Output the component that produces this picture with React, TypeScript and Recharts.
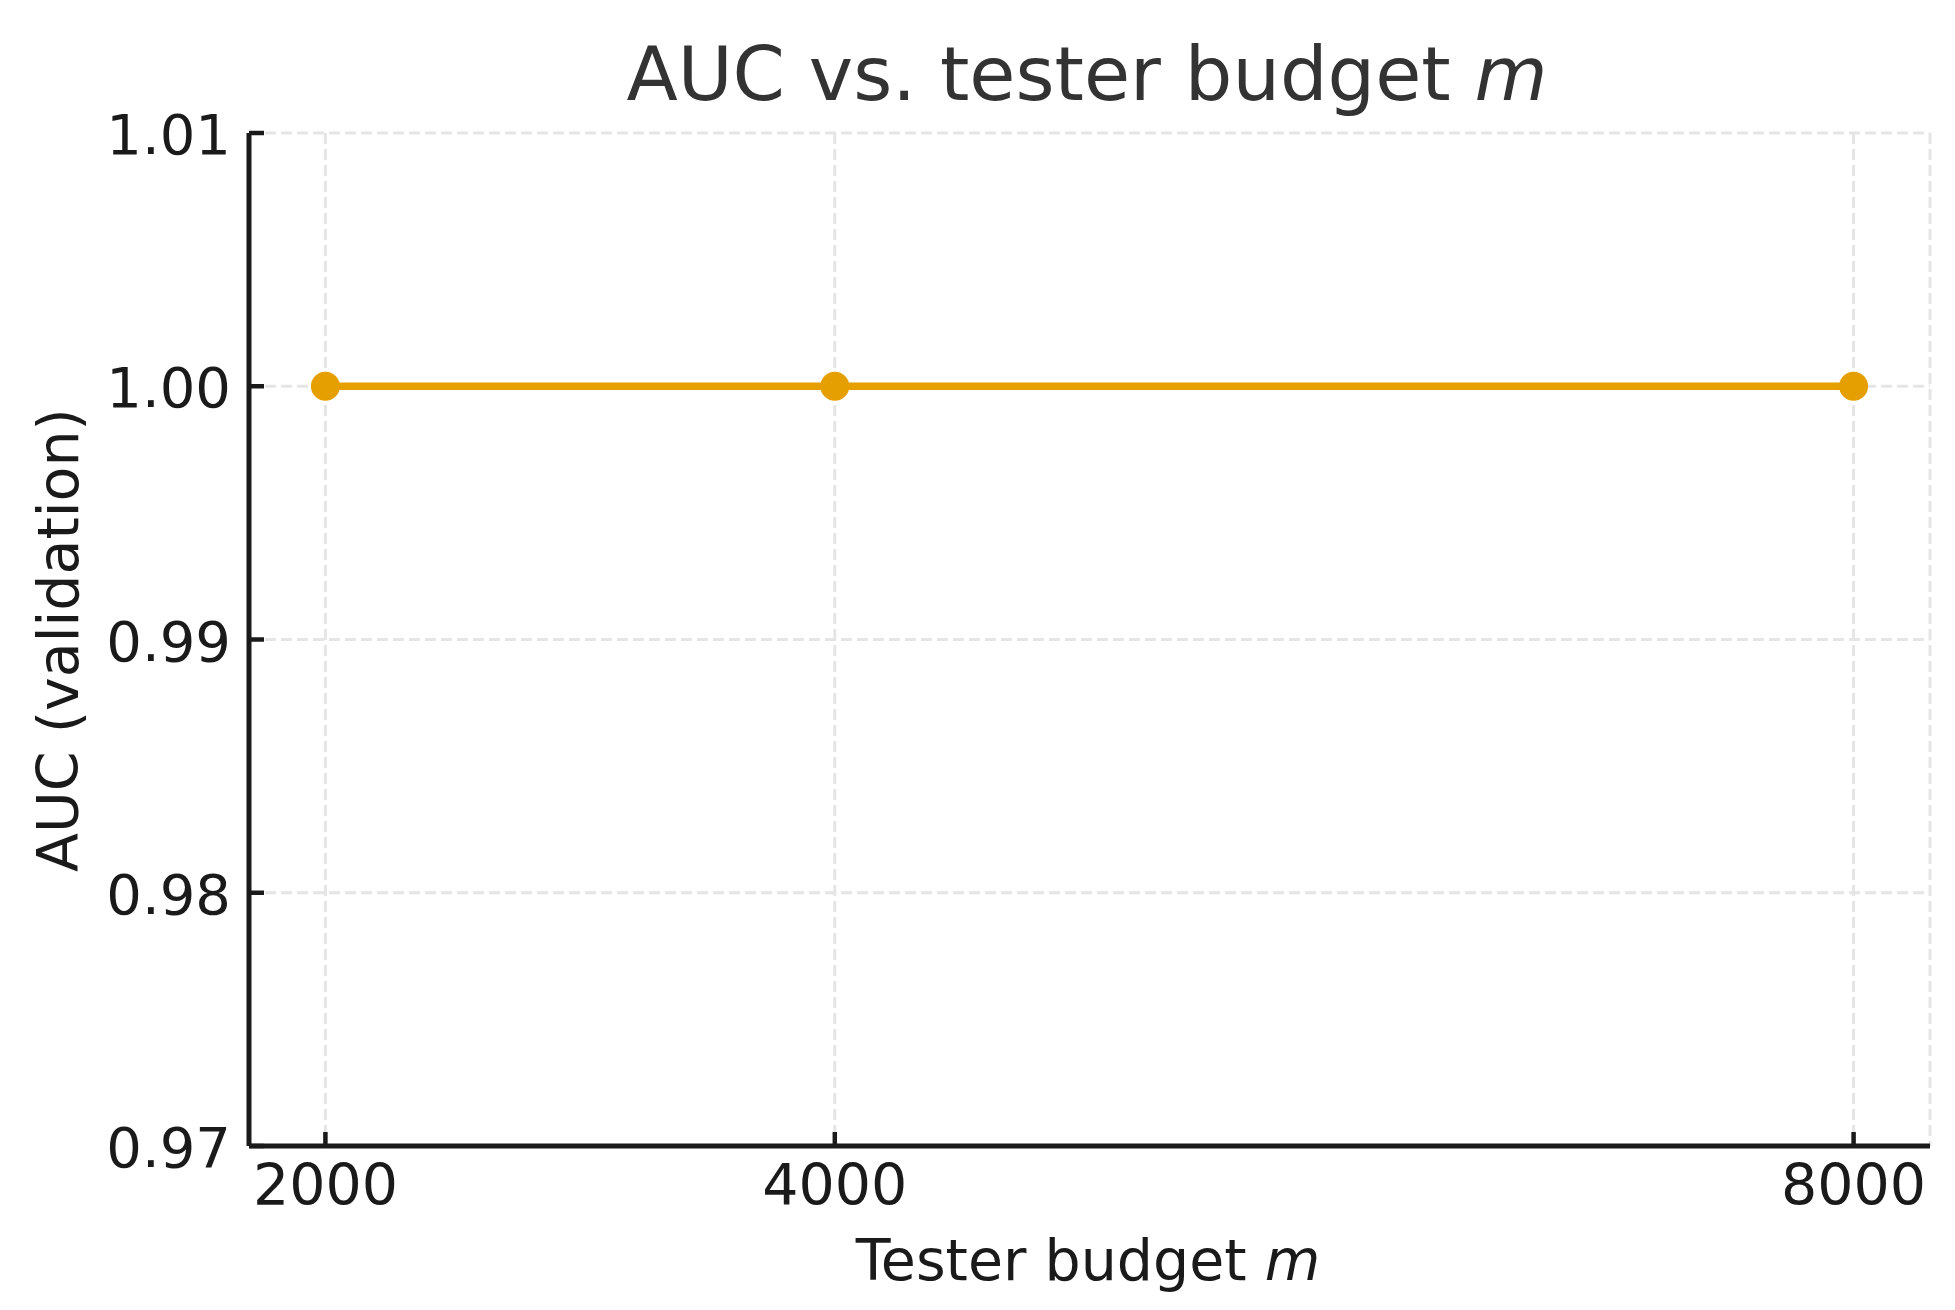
import { LineChart, Line, XAxis, YAxis, CartesianGrid } from 'recharts'

const budgets = [2000, 4000, 8000]
const aucValues = [1.0, 1.0, 1.0]
const xTicks = [2000, 4000, 8000]
const yTicks = [0.97, 0.98, 0.99, 1.0, 1.01]

const data = budgets.map((m, i) => ({ m, auc: aucValues[i] }))

const W = 1955
const H = 1310
const FONT = '"DejaVu Sans", sans-serif'
const INK = '#1a1a1a'
const ORANGE = '#E69F00'

function XTick(props: any) {
  const { x, y, payload } = props
  return (
    <g>
      <line x1={x} x2={x} y1={y} y2={y - 14} stroke={INK} strokeWidth={4.5} />
      <text x={x} y={y + 59} textAnchor="middle" fontSize={57} fill={INK} fontFamily={FONT}>
        {payload.value}
      </text>
    </g>
  )
}

function YTick(props: any) {
  const { x, y, payload } = props
  return (
    <g>
      <line x1={x} x2={x + 15} y1={y} y2={y} stroke={INK} strokeWidth={4.5} />
      <text x={x - 18} y={y + 21} textAnchor="end" fontSize={56} fill={INK} fontFamily={FONT}>
        {Number(payload.value).toFixed(2)}
      </text>
    </g>
  )
}

const xLabel = () => (
  <text x={1088} y={1280} textAnchor="middle" fontSize={57} fill={INK} fontFamily={FONT}>
    Tester budget <tspan fontStyle="italic">m</tspan>
  </text>
)

const yLabel = () => (
  <text
    x={78}
    y={640}
    transform="rotate(-90, 78, 640)"
    textAnchor="middle"
    fontSize={57}
    fill={INK}
    fontFamily={FONT}
  >
    AUC (validation)
  </text>
)

export default function App() {
  return (
    <div style={{ position: 'absolute', left: 0, top: 0, width: W, height: H, background: '#fff' }}>
      <LineChart width={W} height={H} data={data} margin={{ top: 133, right: 25, bottom: 0, left: 0 }}>
        <CartesianGrid stroke="#e5e5e5" strokeWidth={3} strokeDasharray="11 5" />
        <XAxis
          dataKey="m"
          type="number"
          domain={[1700, 8300]}
          ticks={xTicks}
          interval={0}
          height={164}
          tickSize={0}
          tickMargin={0}
          tickLine={false}
          axisLine={{ stroke: INK, strokeWidth: 5 }}
          tick={<XTick />}
          label={xLabel}
        />
        <YAxis
          type="number"
          domain={[0.97, 1.01]}
          ticks={yTicks}
          interval={0}
          width={249}
          tickSize={0}
          tickMargin={0}
          tickLine={false}
          axisLine={{ stroke: INK, strokeWidth: 5 }}
          tick={<YTick />}
          label={yLabel}
          allowDataOverflow
        />
        <Line
          type="linear"
          dataKey="auc"
          stroke={ORANGE}
          strokeWidth={7.5}
          dot={{ r: 14.5, fill: ORANGE, stroke: 'none' }}
          activeDot={false}
          isAnimationActive={false}
        />
      </LineChart>
      <svg width={W} height={H} style={{ position: 'absolute', left: 0, top: 0, pointerEvents: 'none' }}>
        <text x={1087} y={100} textAnchor="middle" fontSize={75} fill="#333333" fontFamily={FONT}>
          AUC vs. tester budget <tspan fontStyle="italic">m</tspan>
        </text>
      </svg>
    </div>
  )
}
